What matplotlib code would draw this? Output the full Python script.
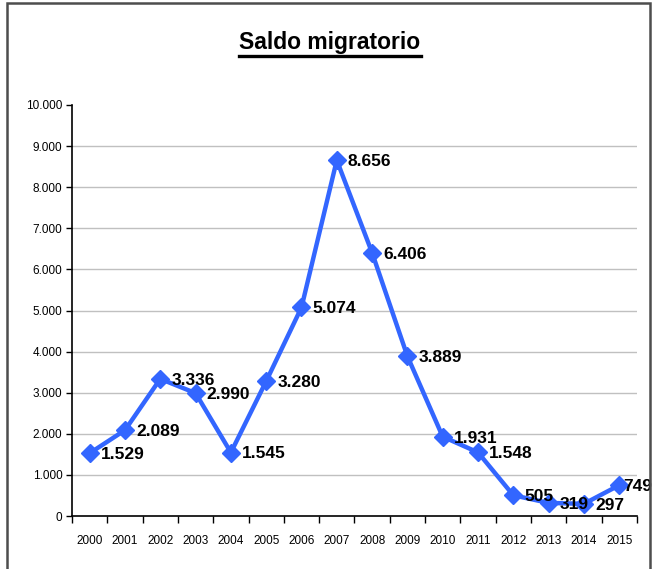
import matplotlib.pyplot as plt
from matplotlib.patches import Rectangle
from matplotlib.lines import Line2D
from matplotlib import font_manager

years = ['2000', '2001', '2002', '2003', '2004', '2005', '2006', '2007',
         '2008', '2009', '2010', '2011', '2012', '2013', '2014', '2015']
saldo = [1529, 2089, 3336, 2990, 1545, 3280, 5074, 8656,
         6406, 3889, 1931, 1548, 505, 319, 297, 749]
y_ticks = [0, 1000, 2000, 3000, 4000, 5000, 6000, 7000, 8000, 9000, 10000]


def miles(v):
    return f'{v:,.0f}'.replace(',', '.')


names = {f.name for f in font_manager.fontManager.ttflist}
fam = ['Liberation Sans Narrow'] if 'Liberation Sans Narrow' in names else []
plt.rcParams['font.family'] = fam + ['Liberation Sans', 'DejaVu Sans']

fig = plt.figure(figsize=(6.56, 5.69), dpi=100)
ax = fig.add_axes([0.1098, 0.0931, 0.861, 0.7224])

x = list(range(len(years)))
blue = '#3366ff'
ax.plot(x, saldo, color=blue, linewidth=3.2, marker='D', markersize=9,
        markeredgecolor=blue, zorder=3, clip_on=False)

for xi, v in zip(x, saldo):
    # the last label sits against the frame, as in the original
    dx = 3 if xi == x[-1] else 8
    ax.annotate(miles(v), (xi, v), xytext=(dx, -1), textcoords='offset points',
                fontsize=12.5, fontweight='bold', ha='left', va='center',
                annotation_clip=False, zorder=4)

ax.set_xlim(-0.5, len(years) - 0.5)
ax.set_ylim(0, 10000)
ax.set_yticks(y_ticks)
ax.set_yticklabels([miles(t) for t in y_ticks], fontsize=8.5)

ax.set_xticks([i - 0.5 for i in range(len(years) + 1)])
ax.set_xticklabels([])
ax.set_xticks(x, minor=True)
ax.set_xticklabels(years, minor=True, fontsize=8.5)
ax.tick_params(axis='x', which='minor', length=0, pad=14)
ax.tick_params(axis='x', which='major', length=5, width=1)
ax.tick_params(axis='y', length=4, width=1, pad=3)

for t in y_ticks[1:-1]:
    ax.axhline(t, color='#c0c0c0', linewidth=1, zorder=1)

for s in ['top', 'right']:
    ax.spines[s].set_visible(False)
for s in ['left', 'bottom']:
    ax.spines[s].set_linewidth(1.2)

title = fig.text(0.503, 0.926, 'Saldo migratorio', fontsize=16.5, fontweight='bold',
                 ha='center', va='center')
fig.canvas.draw()
bb = title.get_window_extent().transformed(fig.transFigure.inverted())
uy = bb.y0 - 0.004
fig.add_artist(Line2D([bb.x0, bb.x1], [uy, uy], color='black', linewidth=2.4,
                      transform=fig.transFigure))

fig.add_artist(Rectangle((7 / 656, -0.05), 643 / 656, 1.05 - 3 / 569,
                         transform=fig.transFigure, fill=False,
                         edgecolor='#4d4d4d', linewidth=1.8))

fig.savefig('out.png', dpi=100)
